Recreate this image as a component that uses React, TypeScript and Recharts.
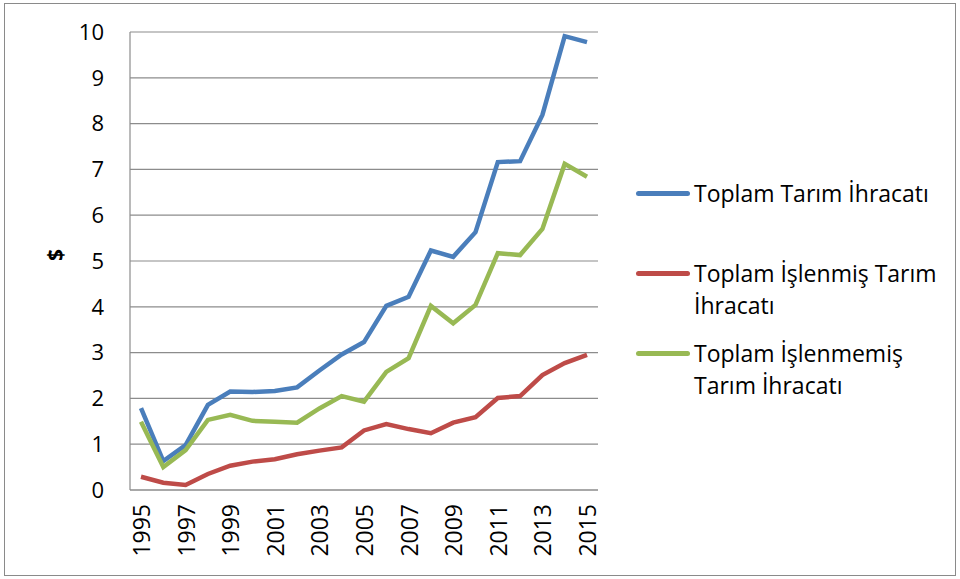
import React from 'react';
import { LineChart, Line, XAxis, YAxis, CartesianGrid } from 'recharts';

const years = [
  '1995', '1996', '1997', '1998', '1999', '2000', '2001', '2002', '2003', '2004', '2005',
  '2006', '2007', '2008', '2009', '2010', '2011', '2012', '2013', '2014', '2015',
];
const toplam = [
  1.79, 0.63, 0.98, 1.86, 2.15, 2.14, 2.16, 2.24, 2.61, 2.96, 3.23,
  4.02, 4.22, 5.23, 5.09, 5.63, 7.16, 7.18, 8.19, 9.91, 9.78,
];
const islenmis = [
  0.29, 0.16, 0.11, 0.35, 0.53, 0.62, 0.67, 0.78, 0.86, 0.93, 1.3,
  1.44, 1.33, 1.24, 1.47, 1.59, 2.01, 2.05, 2.51, 2.77, 2.95,
];
const islenmemis = [
  1.49, 0.5, 0.87, 1.53, 1.64, 1.51, 1.49, 1.47, 1.78, 2.05, 1.93,
  2.58, 2.88, 4.02, 3.64, 4.04, 5.17, 5.13, 5.7, 7.12, 6.84,
];
const yTicks = [0, 1, 2, 3, 4, 5, 6, 7, 8, 9, 10];

const data = years.map((y, i) => ({
  year: y,
  toplam: toplam[i],
  islenmis: islenmis[i],
  islenmemis: islenmemis[i],
}));

const FONT = '"Open Sans", "Noto Sans", sans-serif';

// legend is drawn as plain html on top so it doesn't eat plot space
const legendItems = [
  { color: '#4A7EBB', lines: ['Toplam Tarım İhracatı'], top: 0 },
  { color: '#BE4B48', lines: ['Toplam İşlenmiş Tarım', 'İhracatı'], top: 80 },
  { color: '#98B954', lines: ['Toplam İşlenmemiş', 'Tarım İhracatı'], top: 160 },
];

const ChartLegend = () => (
  <div style={{ position: 'absolute', left: 630, top: 177, width: 330, height: 240, fontFamily: FONT }}>
    {legendItems.map((item) => (
      <div key={item.color} style={{ position: 'absolute', left: 0, top: item.top }}>
        <div
          style={{
            position: 'absolute',
            left: 6,
            top: 14,
            width: 54,
            height: 5,
            borderRadius: 3,
            background: item.color,
          }}
        />
        {item.lines.map((t, j) => (
          <div
            key={t}
            style={{
              position: 'absolute',
              left: 64,
              top: j * 32,
              whiteSpace: 'nowrap',
              fontSize: 23,
              lineHeight: '32px',
              color: '#000',
            }}
          >
            {t}
          </div>
        ))}
      </div>
    ))}
  </div>
);

const YearTick = (props: any) => {
  const { x, y, payload } = props;
  return (
    <text
      x={0}
      y={0}
      transform={`translate(${x},${y + 6}) rotate(-90)`}
      textAnchor="end"
      dominantBaseline="central"
      fontSize={23}
      fontFamily={FONT}
      fill="#000"
    >
      {payload.value}
    </text>
  );
};

export default function App() {
  return (
    <div style={{ position: 'absolute', left: 0, top: 0, width: 960, height: 579, background: '#fff' }}>
      <div
        style={{
          position: 'absolute',
          left: 4,
          top: 3,
          width: 950,
          height: 571,
          border: '1px solid #8a8a8a',
        }}
      />
      <div style={{ position: 'absolute', left: 0, top: 0 }}>
        <LineChart width={960} height={579} data={data} margin={{ top: 32, right: 362, bottom: 0, left: 0 }}>
          <CartesianGrid vertical={false} stroke="#8c8c8c" strokeWidth={1.2} />
          <XAxis
            dataKey="year"
            interval={1}
            height={89}
            padding={{ left: 11, right: 11 }}
            axisLine={{ stroke: '#8c8c8c', strokeWidth: 1.2 }}
            tickLine={false}
            tick={<YearTick />}
          />
          <YAxis
            domain={[0, 10]}
            ticks={yTicks}
            interval={0}
            width={130}
            axisLine={{ stroke: '#8c8c8c', strokeWidth: 1.2 }}
            tickLine={false}
            tickMargin={20}
            tick={{ fill: '#000', fontSize: 22, fontFamily: FONT }}
            label={{
              value: '$',
              angle: -90,
              position: 'insideLeft',
              offset: 56,
              style: { fill: '#000', fontSize: 21, fontWeight: 700, fontFamily: FONT },
            }}
          />
          <Line
            dataKey="toplam"
            name="Toplam Tarım İhracatı"
            stroke="#4A7EBB"
            strokeWidth={4.5}
            dot={false}
            isAnimationActive={false}
          />
          <Line
            dataKey="islenmis"
            name="Toplam İşlenmiş Tarım İhracatı"
            stroke="#BE4B48"
            strokeWidth={4.5}
            dot={false}
            isAnimationActive={false}
          />
          <Line
            dataKey="islenmemis"
            name="Toplam İşlenmemiş Tarım İhracatı"
            stroke="#98B954"
            strokeWidth={4.5}
            dot={false}
            isAnimationActive={false}
          />
        </LineChart>
      </div>
      <ChartLegend />
    </div>
  );
}
